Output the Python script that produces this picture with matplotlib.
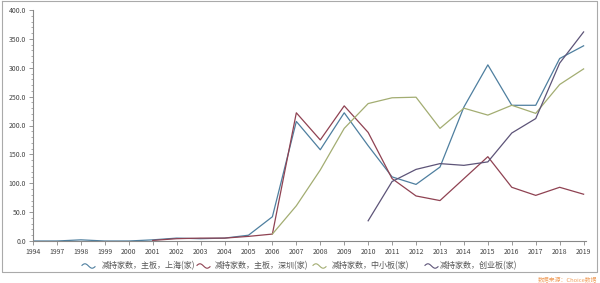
import numpy as np
import matplotlib
matplotlib.use("Agg")
import matplotlib.pyplot as plt
from matplotlib.lines import Line2D

plt.rcParams['font.family'] = ['Noto Sans CJK SC', 'DejaVu Sans']

years = ['1994', '1997', '1998', '1999', '2000', '2001', '2002', '2003', '2004', '2005',
         '2006', '2007', '2008', '2009', '2010', '2011', '2012', '2013', '2014', '2015',
         '2016', '2017', '2018', '2019']
nan = np.nan
sh_main = [0, 0, 2, 0, 0, 2, 5, 4, 5, 10, 42, 207, 158, 222, 165, 111, 98, 128, 232, 305,
           235, 235, 316, 338]
sz_main = [nan, nan, nan, nan, nan, 1, 4, 5, 5, 8, 12, 222, 175, 234, 188, 108, 78, 70, 108, 146,
           93, 79, 93, 81]
sme = [nan, nan, nan, nan, nan, nan, nan, nan, nan, nan, 12, 61, 123, 195, 238, 248, 249, 195, 230, 218,
       235, 221, 271, 298]
gem = [nan, nan, nan, nan, nan, nan, nan, nan, nan, nan, nan, nan, nan, nan, 35, 103, 124, 134, 131, 137,
       187, 212, 308, 362]
labels = ['减持家数，主板，上海(家)', '减持家数，主板，深圳(家)', '减持家数，中小板(家)', '减持家数，创业板(家)']
colors = ['#4e7f9f', '#8f4252', '#a3ad72', '#5d5478']

fig = plt.figure(figsize=(6.0, 2.83), dpi=100)
ax = fig.add_axes([33/600, 1-241/283, (586-33)/600, (241-10)/283])
x = np.arange(len(years))
for s, c in zip([sh_main, sz_main, sme, gem], colors):
    ax.plot(x, s, color=c, lw=0.9)

ax.set_xlim(0, 23.1)
ax.set_ylim(0, 400)
ax.set_xticks(x)
ax.set_xticklabels(years)
ax.set_yticks(np.arange(0, 401, 50))
ax.set_yticklabels([f'{v:.1f}' for v in np.arange(0, 401, 50)])
ax.set_yticks(np.arange(0, 401, 10), minor=True)
for sp in ['top', 'right']:
    ax.spines[sp].set_visible(False)
for sp in ['left', 'bottom']:
    ax.spines[sp].set_color('#888888')
    ax.spines[sp].set_linewidth(0.8)
ax.tick_params(axis='both', which='major', labelsize=5, colors='#888888', labelcolor='#444444',
               length=3, width=0.6, pad=2)
ax.tick_params(axis='y', which='minor', length=1.5, width=0.5, colors='#888888')

# legend with wave icons
icon_x = [82, 197, 313, 425]
text_x = [102, 215, 332, 440]
ly = 266
for lx, tx, lab, c in zip(icon_x, text_x, labels, colors):
    t = np.linspace(0, 1, 30)
    xs = (lx + t * 13) / 600
    ys = 1 - (ly + 2.2 * np.sin(t * 2 * np.pi * 0.9 + 0.3) * -1) / 283
    fig.add_artist(Line2D(xs, ys, color=c, lw=0.8, transform=fig.transFigure))
    fig.text(tx / 600, 1 - ly / 283, lab, fontsize=5.8, color='#555555', va='center', ha='left')

# frame
fig.add_artist(Line2D([2/600, 597/600, 597/600, 2/600, 2/600],
                      [1-1/283, 1-1/283, 1-272/283, 1-272/283, 1-1/283],
                      color='#aaaaaa', lw=0.8, transform=fig.transFigure))
fig.text(597/600, 1-279/283, '数据来源：Choice数据', fontsize=4.2, color='#f0a060', ha='right', va='center')

fig.savefig('out.png', dpi=100)
